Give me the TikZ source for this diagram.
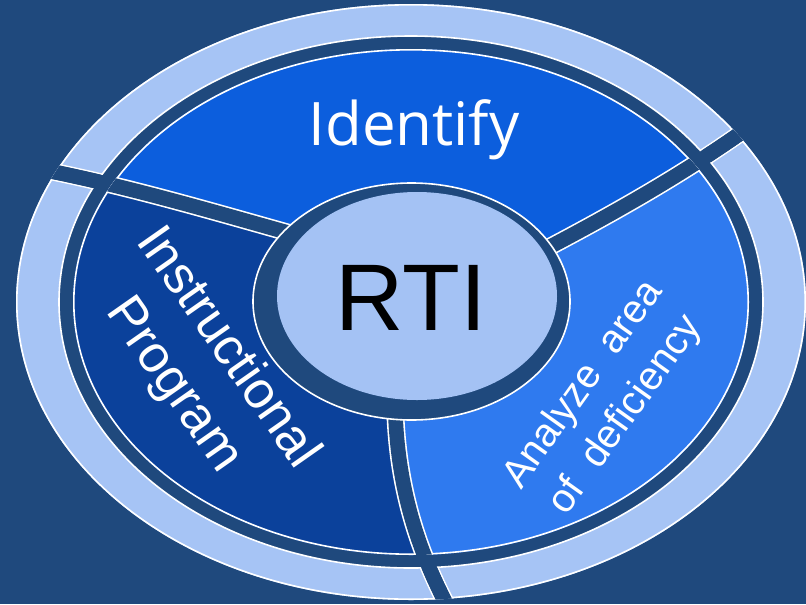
\documentclass[tikz,border=0pt]{standalone}
\usepackage{fontspec}
\usepackage{tikz}
\setsansfont{Liberation Sans}
\newfontfamily\identfont{Open Sans}
\definecolor{rtibg}{RGB}{31,73,125}
\definecolor{ringblue}{RGB}{166,196,245}
\definecolor{hubblue}{RGB}{164,194,244}
\definecolor{identblue}{RGB}{12,94,221}
\definecolor{analyzeblue}{RGB}{47,122,239}
\definecolor{instrblue}{RGB}{11,65,155}
\tikzset{
  rim/.style={draw=white, line width=2.4pt},
  edgeline/.style={draw=white, line width=1.2pt},
  gapedge/.style={draw=white, line width=13.4pt},
  gapline/.style={draw=rtibg, line width=11pt},
  seglbl/.style={font=\sffamily, text=white, align=center, inner sep=0pt}
}
% the three cuts through ring and wheel
\newcommand\rtigaps[1]{%
  \draw[#1] (lgap0) .. controls (lgap1) and (lgap2) .. (lgap3);
  \draw[#1] (rgap0) .. controls (rgap1) and (rgap2) .. (rgap3);
  \draw[#1] (bgap0) .. controls (bgap1) and (bgap2) .. (bgap3);}

\begin{document}
\begin{tikzpicture}[x=0.75pt, y=-0.75pt]
\fill[rtibg] (0,0) rectangle (806,604);
\useasboundingbox (0,0) rectangle (806,604);
\coordinate (c) at (411,302);
\coordinate (lgap0) at (300,236); \coordinate (lgap1) at (200,208);
\coordinate (lgap2) at (100,178); \coordinate (lgap3) at (0,162);
\coordinate (rgap0) at (540,252); \coordinate (rgap1) at (620,210);
\coordinate (rgap2) at (700,165); \coordinate (rgap3) at (775,108);
\coordinate (bgap0) at (395,400); \coordinate (bgap1) at (396,470);
\coordinate (bgap2) at (410,540); \coordinate (bgap3) at (455,620);
% outer ring
\fill[ringblue] (c) ellipse [x radius=395, y radius=298];
\begin{scope}
  \clip (c) ellipse [x radius=395, y radius=298];
  \draw[rim] (c) ellipse [x radius=395, y radius=298];
  \rtigaps{gapedge}
  \rtigaps{gapline}
\end{scope}
\filldraw[fill=rtibg, edgeline] (c) ellipse [x radius=352, y radius=266];
\begin{scope}
  \clip (c) ellipse [x radius=395, y radius=298];
  \rtigaps{gapline}
\end{scope}
% wheel segments
\begin{scope}
  \clip (c) ellipse [x radius=338, y radius=253];
  \fill[identblue] (c) ellipse [x radius=338, y radius=253];
  \fill[analyzeblue] (c) -- (rgap0) .. controls (rgap1) and (rgap2) .. (rgap3)
    -- (900,0) -- (900,700) -- (bgap3) .. controls (bgap2) and (bgap1) .. (bgap0) -- cycle;
  \fill[instrblue] (c) -- (bgap0) .. controls (bgap1) and (bgap2) .. (bgap3)
    -- (-100,700) -- (-100,162) -- (lgap3) .. controls (lgap2) and (lgap1) .. (lgap0) -- cycle;
  \draw[rim] (c) ellipse [x radius=338, y radius=253];
  \rtigaps{gapedge}
  \rtigaps{gapline}
\end{scope}
% hub
\filldraw[fill=rtibg, edgeline] (411.5,301.5) ellipse [x radius=158.5, y radius=118.5];
\fill[hubblue] (417,296) ellipse [x radius=140, y radius=104];
\node[font=\identfont\fontsize{45}{54}\selectfont, text=white, anchor=base, inner sep=0pt] (ident) at (414,145) {Identify};
\node[font=\sffamily\fontsize{71}{85}\selectfont, anchor=base, inner sep=0pt] (hub) at (411,330) {RTI};
\node[seglbl, font=\sffamily\fontsize{39}{49}\selectfont, rotate=-55] (instr) at (200,367) {Instructional\\Program};
\node[seglbl, font=\sffamily\fontsize{30}{39}\selectfont, rotate=54.5] (analyze) at (605,400) {Analyze\ \ area\\of\ \ deficiency};
\end{tikzpicture}
\end{document}
